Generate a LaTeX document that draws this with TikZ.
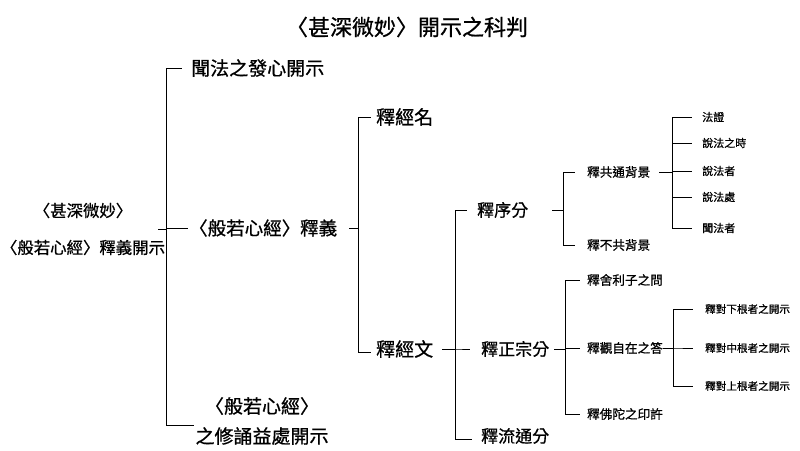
\documentclass[tikz,border=0pt]{standalone}
\usepackage{fontspec}
\setmainfont{Noto Sans CJK TC}
\newfontfamily\medcjk{Noto Sans CJK TC}[FakeBold=0.8]
\begin{document}
\begin{tikzpicture}[x=1pt,y=-1pt,
  conn/.style={line width=0.9pt,black},
  lbl/.style={inner sep=0pt,anchor=west},
  fT/.style={font=\medcjk\fontsize{22}{26}\selectfont},
  fA/.style={font=\medcjk\fontsize{19}{23}\selectfont},
  fB/.style={font=\medcjk\fontsize{18.5}{22}\selectfont},
  fC/.style={font=\medcjk\fontsize{17}{20}\selectfont},
  fD/.style={font=\medcjk\fontsize{12.6}{15}\selectfont},
  fE/.style={font=\medcjk\fontsize{11}{13}\selectfont},
  fF/.style={font=\medcjk\fontsize{10.6}{13}\selectfont}]
\useasboundingbox (0,0) rectangle (800,450);
% title
\node[fT,inner sep=0pt] (title) at (407,27) {〈甚深微妙〉開示之科判};
% root
\node[align=center,inner sep=0pt,font=\medcjk\fontsize{16.4}{37}\selectfont] (root) at (83,229) {〈甚深微妙〉\\〈般若心經〉釋義開示};
% level 1
\node[lbl,fA] (a1) at (191,68) {聞法之發心開示};
\node[lbl,fB] (a2) at (189,228) {〈般若心經〉釋義};
\node[align=center,inner sep=0pt,font=\medcjk\fontsize{19}{30}\selectfont] (a3) at (262,421) {〈般若心經〉\\之修誦益處開示};
% level 2
\node[lbl,fA] (b1) at (376,117) {釋經名};
\node[lbl,fA] (b2) at (376,349) {釋經文};
% level 3
\node[lbl,fC] (c1) at (477,210) {釋序分};
\node[lbl,fC] (c2) at (481,349) {釋正宗分};
\node[lbl,fC] (c3) at (481,436) {釋流通分};
% level 4 (under 釋序分)
\node[lbl,fD] (d1) at (587,172) {釋共通背景};
\node[lbl,fD] (d2) at (587,245) {釋不共背景};
% level 5 (under 釋共通背景)
\node[lbl,fE] (e1) at (702,117) {法證};
\node[lbl,fE] (e2) at (702,143) {說法之時};
\node[lbl,fE] (e3) at (702,171) {說法者};
\node[lbl,fE] (e4) at (702,197) {說法處};
\node[lbl,fE] (e5) at (702,228) {聞法者};
% level 4 (under 釋正宗分)
\node[lbl,fD] (f1) at (587,280) {釋舍利子之問};
\node[lbl,fD] (f2) at (587,348) {釋觀自在之答};
\node[lbl,fD] (f3) at (587,414) {釋佛陀之印許};
% level 5 (under 釋觀自在之答)
\node[lbl,fF] (g1) at (705,309) {釋對下根者之開示};
\node[lbl,fF] (g2) at (705,348) {釋對中根者之開示};
\node[lbl,fF] (g3) at (705,386) {釋對上根者之開示};
% bus coordinates
\coordinate (k1) at (166,0);
\coordinate (k2) at (358,0);
\coordinate (k3) at (455,0);
\coordinate (k4) at (563,0);
\coordinate (k5) at (672,0);
\coordinate (k6) at (565,0);
\coordinate (k7) at (673,0);
% connectors
\draw[conn] ([xshift=-7pt]root.east) -- (root.east -| k1) |- ([xshift=-9pt]a1.west);
\draw[conn] ([xshift=-7pt]root.east) -- (root.east -| k1) |- ([xshift=-1pt]a2.west);
\draw[conn] ([xshift=-7pt]root.east) -- (root.east -| k1) |- ([xshift=-1pt,yshift=-4pt]a3.west);
\draw[conn] ([xshift=12pt]a2.east) -- (a2.east -| k2) |- ([xshift=-5pt]b1.west);
\draw[conn] ([xshift=12pt]a2.east) -- (a2.east -| k2) |- ([xshift=-5pt,yshift=-3pt]b2.west);
\draw[conn] ([xshift=9pt]b2.east) -- (b2.east -| k3) |- ([xshift=-10pt]c1.west);
\draw[conn] ([xshift=9pt]b2.east) -- (b2.east -| k3) |- ([xshift=-11pt]c2.west);
\draw[conn] ([xshift=9pt]b2.east) -- (b2.east -| k3) |- ([xshift=-9pt,yshift=-3pt]c3.west);
\draw[conn] ([xshift=24pt]c1.east) -- (c1.east -| k4) |- ([xshift=-12pt]d1.west);
\draw[conn] ([xshift=24pt]c1.east) -- (c1.east -| k4) |- ([xshift=-12pt]d2.west);
\foreach \e in {e1,e2,e3,e4,e5}
  \draw[conn] ([xshift=9pt]d1.east) -- (d1.east -| k5) |- ([xshift=-10pt]\e.west);
\foreach \f in {f1,f2,f3}
  \draw[conn] ([xshift=5pt]c2.east) -- (c2.east -| k6) |- ([xshift=-7pt]\f.west);
\foreach \g in {g1,g2,g3}
  \draw[conn] ([xshift=0pt]f2.east) -- (f2.east -| k7) |- ([xshift=-12pt]\g.west);
\end{tikzpicture}
\end{document}
